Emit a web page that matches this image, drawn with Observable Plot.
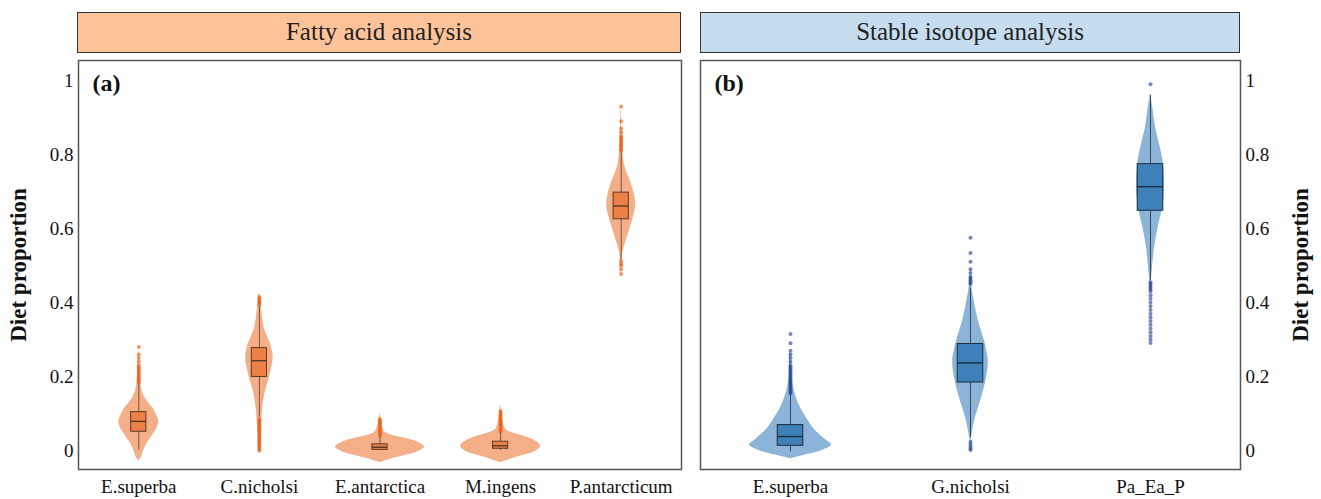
<!DOCTYPE html>
<html>
<head>
<meta charset="utf-8">
<script src="https://cdn.jsdelivr.net/npm/d3@7"></script>
<script src="https://cdn.jsdelivr.net/npm/@observablehq/plot@0.6"></script>
<style>
  html, body { margin: 0; padding: 0; background: #fff; }
  #wrap { position: relative; width: 1321px; height: 499px; font-family: "Liberation Serif", serif; }
  .strip { position: absolute; top: 12px; height: 41px; box-sizing: border-box; border: 1.5px solid #333;
           text-align: center; line-height: 38px; font-size: 25px; color: #222; font-family: "Liberation Serif", serif; }
  svg { position: absolute; top: 0; }
</style>
</head>
<body>
<div id="wrap"></div>
<script>
// ---------- DATA ----------
const yTicks = [0, 0.2, 0.4, 0.6, 0.8, 1];
const stripTitles = ["Fatty acid analysis", "Stable isotope analysis"];
const panelTags = ["(a)", "(b)"];
const axisTitle = "Diet proportion";

// (a) Fatty acid analysis
const faCats = ["E.superba", "C.nicholsi", "E.antarctica", "M.ingens", "P.antarcticum"];
// violin profile: y values and half-widths (category units)
const faViolinY = [
  [-0.028, -0.015, 0.0, 0.016, 0.03, 0.043, 0.06, 0.079, 0.095, 0.115, 0.13, 0.142, 0.16, 0.18, 0.2, 0.24, 0.28],
  [-0.01, 0.003, 0.04, 0.07, 0.115, 0.16, 0.205, 0.25, 0.28, 0.304, 0.33, 0.36, 0.39, 0.415, 0.425],
  [-0.032, -0.025, -0.015, -0.005, 0.009, 0.02, 0.03, 0.04, 0.05, 0.065, 0.085, 0.1],
  [-0.032, -0.025, -0.014, -0.003, 0.012, 0.024, 0.035, 0.046, 0.058, 0.075, 0.1, 0.125]
  ,
  [0.47, 0.5, 0.531, 0.558, 0.593, 0.63, 0.661, 0.694, 0.729, 0.765, 0.797, 0.85, 0.935]
];
const faViolinW = [
  [0, 0.025, 0.041, 0.062, 0.091, 0.116, 0.149, 0.166, 0.149, 0.116, 0.079, 0.052, 0.029, 0.017, 0.010, 0.006, 0],
  [0, 0.008, 0.012, 0.017, 0.027, 0.050, 0.089, 0.114, 0.100, 0.072, 0.041, 0.025, 0.015, 0.008, 0],
  [0, 0.066, 0.182, 0.299, 0.369, 0.332, 0.249, 0.116, 0.041, 0.021, 0.010, 0],
  [0, 0.066, 0.174, 0.282, 0.332, 0.300, 0.232, 0.116, 0.041, 0.021, 0.010, 0],
  [0, 0.007, 0.012, 0.033, 0.066, 0.100, 0.120, 0.108, 0.075, 0.033, 0.017, 0.008, 0]
];
const faQ1  = [0.051, 0.199, 0.002, 0.005, 0.625];
const faMed = [0.079, 0.243, 0.009, 0.013, 0.661];
const faQ3  = [0.104, 0.277, 0.017, 0.024, 0.697];
const faLo  = [0.002, 0.09, 0.0, 0.0, 0.517];
const faHi  = [0.182, 0.392, 0.038, 0.05, 0.805];
const faOutliers = [
  [0.185, 0.19, 0.195, 0.2, 0.205, 0.21, 0.215, 0.22, 0.225, 0.23, 0.24, 0.25, 0.26, 0.28],
  [0.395, 0.4, 0.405, 0.41, 0.415, 0.0, 0.005, 0.01, 0.015, 0.02, 0.025, 0.03, 0.035, 0.04, 0.045, 0.05, 0.055, 0.06, 0.065, 0.07, 0.075, 0.08, 0.085],
  [0.04, 0.045, 0.05, 0.055, 0.06, 0.065, 0.07, 0.075, 0.08, 0.085],
  [0.052, 0.057, 0.062, 0.067, 0.072, 0.077, 0.082, 0.087, 0.092, 0.097, 0.102, 0.107],
  [0.81, 0.815, 0.82, 0.825, 0.83, 0.835, 0.84, 0.845, 0.85, 0.86, 0.87, 0.89, 0.93, 0.512, 0.505, 0.5, 0.49, 0.477]
];

// (b) Stable isotope analysis
const siCats = ["E.superba", "G.nicholsi", "Pa_Ea_P"];
const siViolinY = [
  [-0.022, -0.012, 0.002, 0.015, 0.033, 0.06, 0.088, 0.115, 0.142, 0.169, 0.2, 0.25, 0.27],
  [0.02, 0.043, 0.079, 0.142, 0.19, 0.241, 0.29, 0.35, 0.4, 0.44, 0.47, 0.5],
  [0.43, 0.467, 0.494, 0.548, 0.602, 0.657, 0.711, 0.783, 0.828, 0.873, 0.919, 0.965]
];
const siViolinW = [
  [0, 0.083, 0.183, 0.228, 0.187, 0.128, 0.089, 0.056, 0.033, 0.017, 0.008, 0.004, 0],
  [0, 0.008, 0.022, 0.061, 0.086, 0.099, 0.081, 0.044, 0.022, 0.008, 0.003, 0],
  [0, 0.006, 0.011, 0.022, 0.042, 0.067, 0.078, 0.069, 0.050, 0.028, 0.015, 0]
];
const siQ1  = [0.013, 0.184, 0.648];
const siMed = [0.038, 0.237, 0.713];
const siQ3  = [0.069, 0.288, 0.774];
const siLo  = [-0.003, 0.035, 0.46];
const siHi  = [0.153, 0.44, 0.96];
const siOutliers = [
  [0.155, 0.16, 0.165, 0.17, 0.175, 0.18, 0.185, 0.19, 0.195, 0.2, 0.205, 0.21, 0.215, 0.22, 0.225, 0.23, 0.24, 0.25, 0.26, 0.27, 0.29, 0.315],
  [0.45, 0.455, 0.46, 0.465, 0.47, 0.48, 0.49, 0.51, 0.534, 0.575, 0.024, 0.018, 0.012, 0.006, 0.002],
  [0.99, 0.455, 0.45, 0.445, 0.44, 0.435, 0.43, 0.42, 0.41, 0.4, 0.39, 0.38, 0.37, 0.36, 0.35, 0.34, 0.33, 0.32, 0.31, 0.3, 0.291]
];

// ---------- DRAWING ----------
const FONT = "Liberation Serif";
function panel(o) {
  const idx = o.cats.map((c, i) => i);
  const vrows = idx.flatMap(i => o.vy[i].map((y, j) => ({i, y, w: o.vw[i][j]})));
  const dots = idx.flatMap(i => o.out[i].map(y => ({i, y})));
  const bw = o.boxHalf;
  const leftSide = o.anchor === "left";
  return Plot.plot({
    width: o.width, height: 499,
    marginLeft: o.mL, marginRight: o.mR, marginTop: 60, marginBottom: 30,
    style: {fontFamily: FONT, fontSize: "19px", color: "#111", background: "transparent", overflow: "visible"},
    x: {domain: [-0.5, o.cats.length - 0.5]},
    y: {domain: [-0.051, 1.054]},
    marks: [
      Plot.areaX(vrows, {x1: d => d.i - d.w, x2: d => d.i + d.w, y: "y", z: "i",
        fill: o.vFill, fillOpacity: 0.85, curve: "catmull-rom"}),
      Plot.ruleX(idx, {x: i => i, y1: i => o.lo[i], y2: i => o.hi[i], stroke: o.line, strokeWidth: 1, strokeOpacity: 0.8}),
      Plot.dot(dots, {x: "i", y: "y", r: 2, fill: o.dotFill, fillOpacity: 0.6, stroke: "none"}),
      Plot.rect(idx, {x1: i => i - bw, x2: i => i + bw, y1: i => o.q1[i], y2: i => o.q3[i],
        fill: o.boxFill, stroke: o.line, strokeWidth: 1}),
      Plot.ruleY(idx, {y: i => o.med[i], x1: i => i - bw, x2: i => i + bw, stroke: o.line, strokeWidth: 1.4}),
      Plot.frame({stroke: "#555", strokeWidth: 1.5}),
      Plot.axisX({ticks: idx, tickFormat: i => o.cats[i], tickSize: 0, tickPadding: 10, label: null}),
      Plot.axisY({anchor: o.anchor, ticks: yTicks, tickFormat: d => String(d), tickSize: 0, tickPadding: 5, label: null}),
      Plot.text([o.tag], {frameAnchor: "top-left", dx: 14, dy: 13, text: d => d, fontWeight: "bold", fontSize: 24, fill: "#111"}),
      Plot.text([axisTitle], {frameAnchor: o.anchor, dx: leftSide ? -60 : 60, rotate: -90, text: d => d,
        textAnchor: "middle", lineAnchor: "middle", fontWeight: "bold", fontSize: 23, fill: "#111"})
    ]
  });
}

const wrap = document.getElementById("wrap");

const s1 = document.createElement("div");
s1.className = "strip";
s1.style.left = "77px"; s1.style.width = "604px"; s1.style.background = "#FFC39A";
s1.textContent = stripTitles[0];
wrap.appendChild(s1);

const s2 = document.createElement("div");
s2.className = "strip";
s2.style.left = "700px"; s2.style.width = "540px"; s2.style.background = "#C6DCEF";
s2.textContent = stripTitles[1];
wrap.appendChild(s2);

const pA = panel({
  cats: faCats, vy: faViolinY, vw: faViolinW, q1: faQ1, med: faMed, q3: faQ3, lo: faLo, hi: faHi, out: faOutliers,
  vFill: "#F2A073", boxFill: "#EE8046", dotFill: "#E8570A", line: "#5a3a28",
  anchor: "left", tag: panelTags[0], width: 690, mL: 78, mR: 9, boxHalf: 0.063
});
pA.style.left = "0px";
wrap.appendChild(pA);

const pB = panel({
  cats: siCats, vy: siViolinY, vw: siViolinW, q1: siQ1, med: siMed, q3: siQ3, lo: siLo, hi: siHi, out: siOutliers,
  vFill: "#78A6D1", boxFill: "#3E80BA", dotFill: "#1B3A8C", line: "#1e2d3c",
  anchor: "right", tag: panelTags[1], width: 631, mL: 10, mR: 81, boxHalf: 0.071
});
pB.style.left = "690px";
wrap.appendChild(pB);
</script>
</body>
</html>
